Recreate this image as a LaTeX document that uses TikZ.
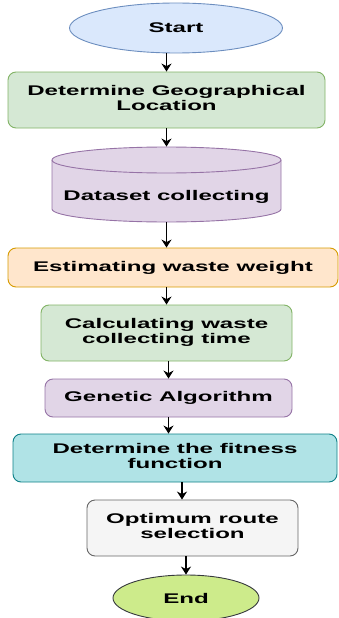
\documentclass[tikz,border=0pt]{standalone}
\usepackage{fontspec}
\setmainfont{Liberation Sans}
\usetikzlibrary{arrows.meta,shapes.geometric,calc}
\definecolor{blueF}{HTML}{DAE8FC}\definecolor{blueD}{HTML}{6C8EBF}
\definecolor{greenF}{HTML}{D5E8D4}\definecolor{greenD}{HTML}{82B366}
\definecolor{purpF}{HTML}{E1D5E7}\definecolor{purpD}{HTML}{9673A6}
\definecolor{orF}{HTML}{FFE6CC}\definecolor{orD}{HTML}{D79B00}
\definecolor{cyF}{HTML}{B0E3E6}\definecolor{cyD}{HTML}{0E8088}
\definecolor{grF}{HTML}{F5F5F5}\definecolor{grD}{HTML}{666666}
\definecolor{endF}{HTML}{CDEB8B}\definecolor{endD}{HTML}{36393D}
\newcommand\tx[1]{\scalebox{1.72}[1]{\bfseries #1}}
\newcommand\mtx[2]{\scalebox{1.72}[1]{\bfseries\begin{tabular}{@{}c@{}}#1\\#2\end{tabular}}}
\begin{document}
\begin{tikzpicture}[x=1pt,y=-1pt,
  every node/.style={font=\fontsize{14}{14.5}\selectfont, inner sep=0pt, line width=0.9pt},
  procbox/.style={draw, rectangle, rounded corners=8pt},
  ovalbox/.style={draw, ellipse},
  arr/.style={-{Stealth[length=8pt,width=10pt]}, line width=1.3pt, black}]
\useasboundingbox (0,0) rectangle (339,618);
\node[ovalbox, fill=blueF, draw=blueD, minimum width=213pt, minimum height=50pt] (start) at (176,28) {\tx{Start}};
\node[procbox, fill=greenF, draw=greenD, minimum width=317pt, minimum height=56pt] (geo) at (166.5,100) {\mtx{Determine Geographical}{Location}};
% cylinder
\node[minimum width=229pt, minimum height=75pt] (cyl) at (166.5,184.5) {};
\path[fill=purpF, draw=purpD, line width=0.9pt] (52,160) -- (52,209) arc[start angle=180, end angle=0, x radius=114.5, y radius=13] -- (281,160) arc[start angle=0, end angle=-180, x radius=114.5, y radius=13] -- cycle;
\draw[purpD, line width=0.9pt] (52,160) arc[start angle=180, end angle=0, x radius=114.5, y radius=13];
\node (cyltext) at (166.5,197) {\tx{Dataset collecting}};
\node[procbox, fill=orF, draw=orD, minimum width=330pt, minimum height=39pt] (est) at (173,267.5) {\tx{Estimating waste weight}};
\node[procbox, fill=greenF, draw=greenD, minimum width=251pt, minimum height=56pt] (calc) at (166.5,333) {\mtx{Calculating waste}{collecting time}};
\node[procbox, fill=purpF, draw=purpD, minimum width=247pt, minimum height=38pt] (gen) at (168.5,398) {\tx{Genetic Algorithm}};
\node[procbox, fill=cyF, draw=cyD, minimum width=324pt, minimum height=48pt] (fit) at (175,458) {\mtx{Determine the fitness}{function}};
\node[procbox, fill=grF, draw=grD, minimum width=211pt, minimum height=56pt] (opt) at (192.5,528) {\mtx{Optimum route}{selection}};
\node[ovalbox, fill=endF, draw=endD, minimum width=146pt, minimum height=46pt] (end) at (186,598) {\tx{End}};
\draw[arr] (start.south -| geo.north) -- (geo.north);
\draw[arr] (geo.south) -- (cyl.north);
\draw[arr] (cyl.south) -- (cyl.south |- est.north);
\draw[arr] (est.south -| calc.north) -- (calc.north);
\draw[arr] (calc.south -| gen.north) -- (gen.north);
\draw[arr] (gen.south) -- (gen.south |- fit.north);
\draw[arr] ($(fit.south)+(7,0)$) -- ($(fit.south |- opt.north)+(7,0)$);
\draw[arr] (opt.south -| end.north) -- (end.north);
\end{tikzpicture}
\end{document}
